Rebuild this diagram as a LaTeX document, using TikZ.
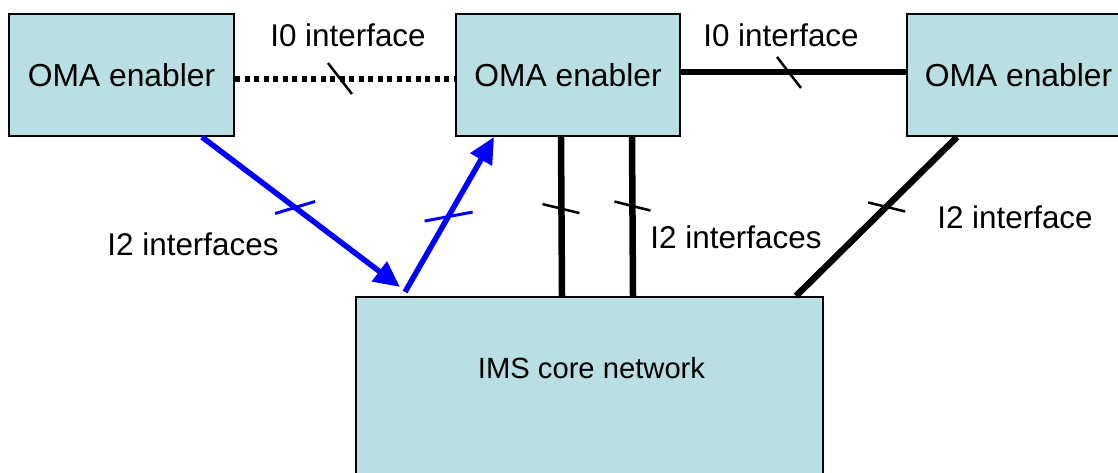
\documentclass[tikz,border=0pt]{standalone}
\usepackage{fontspec}
\setmainfont{Liberation Sans}
\usetikzlibrary{arrows.meta,calc}
\definecolor{boxfill}{RGB}{186,223,226}
\definecolor{arrowblue}{RGB}{0,0,255}
\begin{document}
\begin{tikzpicture}[x=1pt,y=-1pt,
  box/.style={draw=black,line width=2pt,fill=boxfill,inner sep=0pt,font=\fontsize{31.8}{36}\selectfont},
  lbl/.style={anchor=base,inner sep=0pt,font=\fontsize{31.4}{36}\selectfont},
  dotline/.style={line width=5.5pt,dash pattern=on 5pt off 4.5pt},
  solidline/.style={line width=6.5pt},
  bluearrow/.style={draw=arrowblue,line width=5.5pt,-{Triangle[length=26pt,width=24pt]}},
  tickmark/.style={line width=2.5pt},
  bluetick/.style={draw=arrowblue,line width=3pt}]
\useasboundingbox (0,0) rectangle (1118,472);

% boxes
\node[box,minimum width=225pt,minimum height=122pt] (L) at (121.5,75) {OMA enabler};
\node[box,minimum width=224pt,minimum height=122pt] (M) at (568,75) {OMA enabler};
\node[box,minimum width=223pt,minimum height=122pt] (R) at (1018.5,75) {OMA enabler};
\node[box,minimum width=467pt,minimum height=240pt,anchor=north west] (ims) at (355,296) {};
\node[lbl,font=\fontsize{29.2}{34}\selectfont] (imst) at (591.5,378) {IMS core network};

% I0 interfaces
\draw[dotline] ([yshift=-4pt]L.east) -- coordinate[pos=0.477] (t1) ([yshift=-4pt]M.west);
\draw[tickmark] ($(t1)+(-12,-16)$) -- ($(t1)+(12,15)$);
\draw[solidline] ([yshift=3pt]M.east) -- coordinate[pos=0.48] (t2) ([yshift=3pt]R.west);
\draw[tickmark] ($(t2)+(-12,-15)$) -- ($(t2)+(12,16)$);

% blue I2 arrows
\draw[bluearrow] ([xshift=80.5pt]L.south) -- coordinate[pos=0.47] (t3) ([xshift=45pt,yshift=9pt]ims.north west);
\draw[bluetick] ($(t3)+(-20,6)$) -- ($(t3)+(20,-6)$);
\draw[bluearrow] ([xshift=50pt,yshift=4pt]ims.north west) -- coordinate[pos=0.49] (t4) ([xshift=39pt]M.south west);
\draw[bluetick] ($(t4)+(-24,5)$) -- ($(t4)+(24,-4)$);

% black I2 lines
\draw[solidline] ([xshift=106pt]M.south west) -- coordinate[pos=0.447] (t5) ([xshift=207pt]ims.north west);
\draw[tickmark] ($(t5)+(-19,-4)$) -- ($(t5)+(18,5)$);
\draw[solidline] ([xshift=177pt]M.south west) -- coordinate[pos=0.434] (t6) ([xshift=278pt]ims.north west);
\draw[tickmark] ($(t6)+(-18,-4.5)$) -- ($(t6)+(18,4.5)$);
\draw[solidline] ([xshift=51pt]R.south west) -- coordinate[pos=0.44] (t7) ([xshift=-28pt]ims.north east);
\draw[tickmark] ($(t7)+(-18,-4.5)$) -- ($(t7)+(19,4.5)$);

% labels
\node[lbl] (i0a) at (348,46) {I0 interface};
\node[lbl] (i0b) at (781,46) {I0 interface};
\node[lbl] (i2a) at (193,255) {I2 interfaces};
\node[lbl] (i2b) at (736,248) {I2 interfaces};
\node[lbl] (i2c) at (1015,228) {I2 interface};
\end{tikzpicture}
\end{document}
